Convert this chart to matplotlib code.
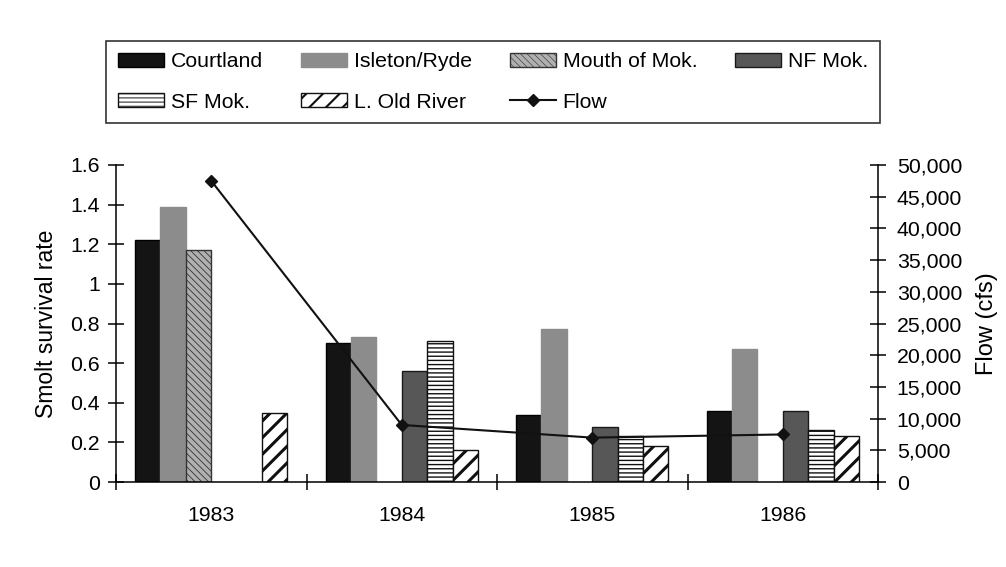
import matplotlib
matplotlib.use("Agg")
import matplotlib.pyplot as plt
import matplotlib.ticker as ticker
import numpy as np

# Data
years = ["1983", "1984", "1985", "1986"]
courtland = [1.22, 0.70, 0.34, 0.36]
isleton = [1.39, 0.73, 0.77, 0.67]
mouth_mok = [1.17, np.nan, np.nan, np.nan]
nf_mok = [np.nan, 0.56, 0.28, 0.36]
sf_mok = [np.nan, 0.71, 0.23, 0.26]
old_river = [0.35, 0.16, 0.18, 0.23]
flow = [47500, 9000, 7000, 7500]

plt.rcParams["font.family"] = ["Liberation Sans", "DejaVu Sans"]
plt.rcParams["hatch.linewidth"] = 1.0

fs = 15.3

fig = plt.figure(figsize=(10.06, 5.67), dpi=100)
ax = fig.add_axes([116 / 1006, 1 - 482 / 567, (878 - 116) / 1006, (482 - 165) / 567])

x = np.arange(len(years))
w = 1 / 7.5

series = [
    ("Courtland", courtland, dict(facecolor="#141414", edgecolor="#000000"), 1.0),
    ("Isleton/Ryde", isleton, dict(facecolor="#8c8c8c", edgecolor="#8c8c8c"), 1.0),
    ("Mouth of Mok.", mouth_mok, dict(facecolor="#b0b0b0", edgecolor="#333333", hatch="\\\\\\\\\\"), 0.6),
    ("NF Mok.", nf_mok, dict(facecolor="#575757", edgecolor="#1a1a1a"), 1.0),
    ("SF Mok.", sf_mok, dict(facecolor="white", edgecolor="#111111", hatch="----"), 1.0),
    ("L. Old River", old_river, dict(facecolor="white", edgecolor="#111111", hatch="//"), 2.2),
]
hatch_lw = {}

handles = {}
for i, (name, vals, style, hlw) in enumerate(series):
    vals = np.array(vals, dtype=float)
    ok = ~np.isnan(vals)
    hatch_lw[name] = hlw
    b = ax.bar(x[ok] + (i - 2.5) * w, vals[ok], width=w, linewidth=1.0,
               label=name, zorder=2, **style)
    for p in b:
        if hasattr(p, "set_hatch_linewidth"):
            p.set_hatch_linewidth(hlw)
    handles[name] = b

ax.set_xlim(-0.5, len(years) - 0.5)
ax.set_ylim(0, 1.6)
ax.yaxis.set_major_locator(ticker.MultipleLocator(0.2))
ax.yaxis.set_major_formatter(ticker.FuncFormatter(lambda v, pos: "{:g}".format(round(v, 2))))

# category boundaries as major ticks, names on minor ticks
ax.set_xticks(np.arange(-0.5, len(years), 1.0))
ax.set_xticklabels([])
ax.set_xticks(x, minor=True)
ax.set_xticklabels(years, minor=True)
ax.tick_params(axis="x", which="major", direction="inout", length=11, width=1.1)
ax.tick_params(axis="x", which="minor", length=0, pad=17, labelsize=fs)
ax.tick_params(axis="y", direction="inout", length=11, width=1.1, pad=6, labelsize=fs)

for s in ["top", "right"]:
    ax.spines[s].set_visible(False)
for s in ["left", "bottom"]:
    ax.spines[s].set_linewidth(1.1)

ax.set_ylabel("Smolt survival rate", fontsize=16.5, labelpad=9)

# secondary axis for flow
ax2 = ax.twinx()
line, = ax2.plot(x, flow, color="#111111", linewidth=1.5, marker="D", markersize=6,
                 label="Flow", zorder=3)
ax2.set_ylim(0, 50000)
ax2.yaxis.set_major_locator(ticker.MultipleLocator(5000))
ax2.yaxis.set_major_formatter(ticker.FuncFormatter(lambda v, pos: "{:,.0f}".format(v)))
ax2.tick_params(axis="y", direction="inout", length=11, width=1.1, pad=8, labelsize=fs)
for s in ["top", "left", "bottom"]:
    ax2.spines[s].set_visible(False)
ax2.spines["right"].set_linewidth(1.1)
ax2.set_ylabel("Flow (cfs)", fontsize=17, labelpad=10)

# legend: 4 columns, filled column-wise so rows read left to right
order = ["Courtland", "SF Mok.", "Isleton/Ryde", "L. Old River", "Mouth of Mok.", "Flow", "NF Mok."]
handles["Flow"] = line
leg = fig.legend(
    [handles[k] for k in order], order,
    loc="center", ncol=4, mode="expand",
    bbox_to_anchor=(106 / 1006, 1 - 123 / 567, (880 - 106) / 1006, (123 - 41) / 567),
    borderaxespad=0, fontsize=fs, frameon=True, fancybox=False, shadow=False,
    handlelength=2.17, handleheight=0.66, handletextpad=0.33, labelspacing=1.0,
    borderpad=0.55, columnspacing=1.0,
)
leg.get_frame().set_edgecolor("black")
leg.get_frame().set_linewidth(1.2)
for name, h in zip(order, leg.legend_handles):
    if name in hatch_lw and hasattr(h, "set_hatch_linewidth"):
        h.set_hatch_linewidth(hatch_lw[name] * 0.7)

fig.savefig("out.png", dpi=100, facecolor="white")
